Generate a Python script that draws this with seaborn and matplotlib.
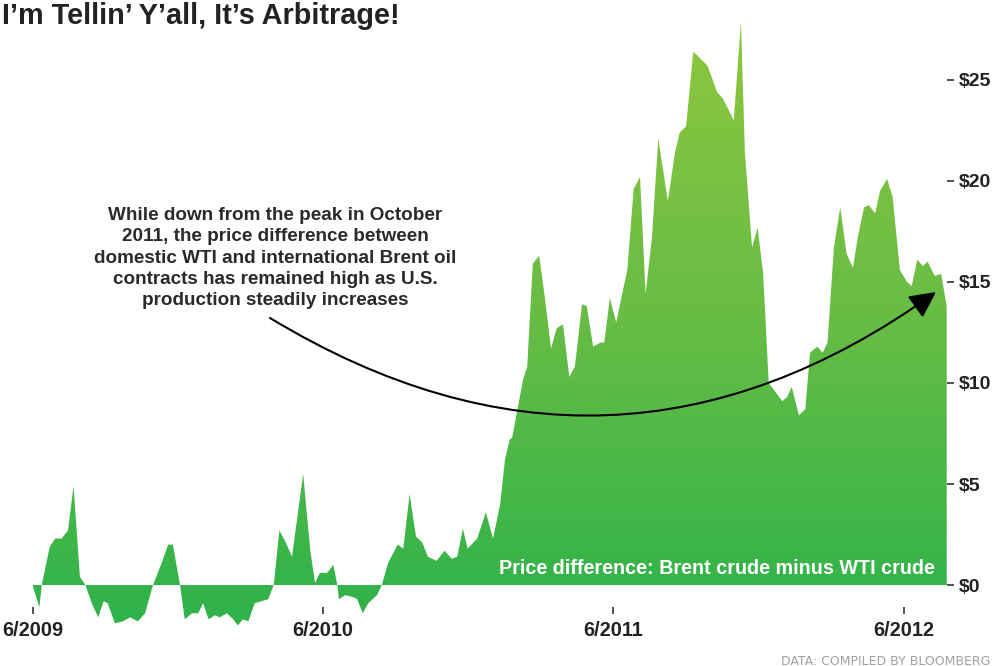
import numpy as np
import pandas as pd
import matplotlib
matplotlib.use("Agg")
import matplotlib.pyplot as plt
import matplotlib.dates as mdates
from matplotlib.colors import LinearSegmentedColormap
import seaborn as sns

# === Data === #
dates = [
    "2009-06-01", "2009-06-09", "2009-06-12", "2009-06-22", "2009-06-29", "2009-07-07",
    "2009-07-15", "2009-07-22", "2009-07-30", "2009-08-06", "2009-08-14", "2009-08-22",
    "2009-08-29", "2009-09-03", "2009-09-12", "2009-09-22", "2009-10-01", "2009-10-11",
    "2009-10-20", "2009-10-30", "2009-11-10", "2009-11-18", "2009-11-24", "2009-12-03",
    "2009-12-09", "2009-12-18", "2009-12-26", "2010-01-01", "2010-01-08", "2010-01-16",
    "2010-01-22", "2010-01-31", "2010-02-08", "2010-02-14", "2010-02-20", "2010-02-27",
    "2010-03-07", "2010-03-16", "2010-03-24", "2010-03-31", "2010-04-07", "2010-04-14",
    "2010-04-23", "2010-05-07", "2010-05-16", "2010-05-22", "2010-05-28", "2010-06-06",
    "2010-06-14", "2010-06-19", "2010-06-21", "2010-06-29", "2010-07-09", "2010-07-14",
    "2010-07-21", "2010-07-28", "2010-08-08", "2010-08-14", "2010-08-22", "2010-09-03",
    "2010-09-10", "2010-09-18", "2010-09-26", "2010-10-04", "2010-10-11", "2010-10-22",
    "2010-11-01", "2010-11-10", "2010-11-17", "2010-11-24", "2010-11-30", "2010-12-12",
    "2010-12-23", "2011-01-01", "2011-01-10", "2011-01-16", "2011-01-22", "2011-01-25",
    "2011-02-08", "2011-02-13", "2011-02-20", "2011-02-28", "2011-03-07", "2011-03-15",
    "2011-03-22", "2011-03-30", "2011-04-07", "2011-04-14", "2011-04-23", "2011-04-29",
    "2011-05-07", "2011-05-16", "2011-05-21", "2011-05-28", "2011-06-05", "2011-06-19",
    "2011-06-27", "2011-07-05", "2011-07-12", "2011-07-20", "2011-07-28", "2011-08-09",
    "2011-08-18", "2011-08-24", "2011-09-01", "2011-09-10", "2011-09-18", "2011-09-28",
    "2011-10-10", "2011-10-17", "2011-10-31", "2011-11-09", "2011-11-14", "2011-11-23",
    "2011-11-30", "2011-12-07", "2011-12-14", "2011-12-31", "2012-01-06", "2012-01-12",
    "2012-01-21", "2012-01-29", "2012-02-04", "2012-02-13", "2012-02-20", "2012-02-26",
    "2012-03-05", "2012-03-13", "2012-03-21", "2012-03-29", "2012-04-04", "2012-04-12",
    "2012-04-18", "2012-04-26", "2012-05-02", "2012-05-11", "2012-05-18", "2012-05-27",
    "2012-06-05", "2012-06-11", "2012-06-18", "2012-06-25", "2012-07-01", "2012-07-10",
    "2012-07-18", "2012-07-25",
]
spread = [
    -0.1, -1.1, 0.0, 1.9, 2.3, 2.3,
    2.7, 4.9, 0.4, 0.0, -0.9, -1.6,
    -0.8, -0.9, -1.9, -1.8, -1.6, -1.8,
    -1.4, 0.0, 1.1, 2.0, 2.0, 0.0,
    -1.7, -1.4, -1.4, -0.9, -1.7, -1.5,
    -1.6, -1.4, -1.7, -2.0, -1.7, -1.8,
    -0.9, -0.8, -0.7, 0.0, 2.7, 2.2,
    1.4, 5.5, 1.7, 0.1, 0.6, 0.6,
    1.0, 0.0, -0.7, -0.5, -0.6, -0.7,
    -1.4, -0.9, -0.5, 0.0, 1.1, 2.0,
    1.8, 4.5, 2.4, 2.1, 1.4, 1.2,
    1.7, 1.3, 1.4, 2.8, 1.8, 2.3,
    3.6, 2.3, 4.0, 6.2, 7.2, 7.3,
    10.2, 10.8, 15.9, 16.3, 14.3, 11.7,
    12.7, 12.9, 10.3, 10.8, 13.9, 13.8,
    11.8, 12.0, 12.0, 14.2, 13.0, 15.6,
    19.6, 20.2, 14.4, 17.2, 22.1, 19.0,
    21.4, 22.4, 22.7, 26.4, 26.1, 25.7,
    24.4, 24.1, 23.0, 27.9, 21.4, 16.7,
    17.7, 15.4, 10.0, 9.1, 9.3, 9.8,
    8.4, 8.7, 11.5, 11.8, 11.5, 12.0,
    16.7, 18.7, 16.4, 15.7, 17.2, 18.7,
    18.8, 18.4, 19.5, 20.1, 19.2, 15.6,
    15.0, 14.8, 16.1, 15.8, 16.0, 15.3,
    15.4, 13.8,
]
xtick_dates = ["2009-06-01", "2010-06-01", "2011-06-01", "2012-06-01"]
xtick_labels = ["6/2009", "6/2010", "6/2011", "6/2012"]
ytick_values = [0, 5, 10, 15, 20, 25]
ytick_labels = ["\\$0", "\\$5", "\\$10", "\\$15", "\\$20", "\\$25"]

df = pd.DataFrame({"date": pd.to_datetime(dates), "spread": spread})

sns.set_style("white")
plt.rcParams["font.family"] = ["Liberation Sans", "DejaVu Sans"]
plt.rcParams["font.weight"] = "bold"

fig = plt.figure(figsize=(10, 6.66), dpi=100)
ax = fig.add_axes([0.0084, 0.0306, 0.9383, 0.9555])

sns.lineplot(data=df, x="date", y="spread", ax=ax, color="#8dc63f", linewidth=0)

# === Area with vertical gradient (light green on top, darker at bottom) === #
poly = ax.fill_between(df["date"], df["spread"], 0, facecolor="none", edgecolor="none")
ymin, ymax = -3.0, 28.5
x0 = mdates.date2num(pd.Timestamp("2009-05-01"))
x1 = mdates.date2num(df["date"].iloc[-1])
cmap = LinearSegmentedColormap.from_list(
    "greens", [(0.0, "#2cb34b"), (0.1, "#35b44a"), (0.5, "#66bc45"), (1.0, "#8fc73e")])
grad = np.linspace(0, 1, 256).reshape(-1, 1)
img = ax.imshow(grad, cmap=cmap, aspect="auto", origin="lower",
                extent=[x0, x1, ymin, ymax], zorder=1)
img.set_clip_path(poly.get_paths()[0], transform=ax.transData)

ax.set_xlim(x0, x1)
ax.set_ylim(ymin, ymax)

# === Axes styling === #
for side in ["left", "top", "right", "bottom"]:
    ax.spines[side].set_visible(False)
ax.spines["bottom"].set_position(("data", -1.1))
ax.set_xlabel("")
ax.set_ylabel("")
ax.set_xticks(mdates.date2num(pd.to_datetime(xtick_dates)))
ax.set_xticklabels(xtick_labels)
ax.yaxis.tick_right()
ax.set_yticks(ytick_values)
ax.set_yticklabels(ytick_labels)
ax.tick_params(axis="x", bottom=True, length=5, width=1.3, color="#444444", pad=5,
               labelsize=14.3, labelcolor="#222222")
ax.tick_params(axis="y", right=True, length=5, width=1.3, color="#444444", pad=4,
               labelsize=14, labelcolor="#222222")
for lab in ax.get_xticklabels() + ax.get_yticklabels():
    lab.set_fontweight("bold")

# === Texts === #
fig.text(0.002, 0.964, "I\u2019m Tellin\u2019 Y\u2019all, It\u2019s Arbitrage!",
         fontsize=20.8, fontweight="bold", color="#222222", ha="left", va="baseline")

fig.text(0.275, 0.6126,
         "While down from the peak in October\n"
         "2011, the price difference between\n"
         "domestic WTI and international Brent oil\n"
         "contracts has remained high as U.S.\n"
         "production steadily increases",
         fontsize=13.6, fontweight="bold", color="#2a2a2a", ha="center", va="center",
         multialignment="center", linespacing=1.34)

fig.text(0.935, 0.1471, "Price difference: Brent crude minus WTI crude",
         fontsize=14.2, fontweight="bold", color="white", ha="right", va="center")

fig.text(0.99, 0.0075, "DATA: COMPILED BY BLOOMBERG", family="DejaVu Sans",
         fontsize=9, fontweight="normal", color="#a0a0a0", ha="right", va="center")

ax.annotate("", xy=(936, 374), xycoords="figure pixels",
            xytext=(270, 348), textcoords="figure pixels",
            arrowprops=dict(arrowstyle="-|>,head_length=0.8,head_width=0.4",
                            connectionstyle="arc3,rad=0.33", color="black",
                            lw=1.5, mutation_scale=20, shrinkA=0, shrinkB=0))

plt.savefig("out.png", dpi=100)
plt.close()
